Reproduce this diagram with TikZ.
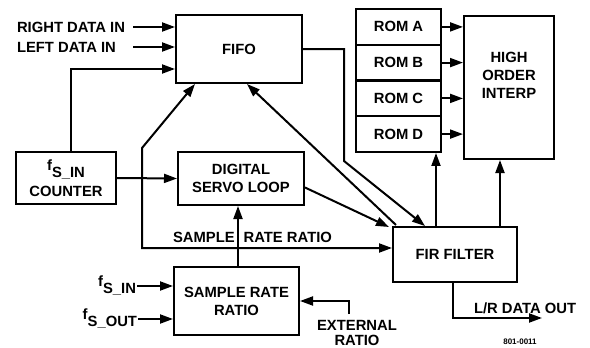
\documentclass[tikz,border=0pt]{standalone}
\usepackage{fontspec}
\setmainfont{Liberation Sans}
\usetikzlibrary{arrows.meta}

\newcommand{\fsig}[1]{f\raisebox{-7pt}{#1}}

\tikzset{%
	block/.style={
		draw,
		line width=2pt,
		align=center,
		inner sep=0pt
	},
	label text/.style={
		inner sep=0pt,
		align=center
	},
}

\begin{document}
\begin{tikzpicture}[x=1pt, y=-1pt, >={Triangle[length=13pt,width=9pt]}, line width=2pt,
  font=\fontsize{14.8}{18}\selectfont\bfseries]
\useasboundingbox (0,0) rectangle (590,348);

% blocks
\node [block, minimum width=126pt, minimum height=68pt] (fifo) at (239,49) {FIFO};
\node [block, minimum width=100pt, minimum height=52pt] (cnt) at (66,178) {\fsig{S\_IN}\\[6pt]COUNTER};
\node [block, minimum width=126pt, minimum height=53pt] (servo) at (241,178.5) {DIGITAL\\SERVO LOOP};
\node [block, minimum width=125pt, minimum height=68pt] (srr) at (236.5,301) {SAMPLE RATE\\RATIO};
\node [block, minimum width=124pt, minimum height=55pt] (fir) at (455,254.5) {FIR FILTER};

\foreach \r/\y in {A/26.9, B/62.6, C/98.4, D/134.1}
	\node [block, minimum width=85pt, minimum height=35.75pt] (rom\r) at (398.5,\y) {ROM \r};

\node [block, minimum width=90pt, minimum height=143pt] (hoi) at (509,87.5) {};
\node [label text] (hoitxt) at (509,75.5) {HIGH\\ORDER\\INTERP};

% labels
\node [label text, anchor=west] (rdi) at (16,27) {RIGHT DATA IN};
\node [label text, anchor=west] (ldi) at (16,47) {LEFT DATA IN};
\node [label text, anchor=west] (srrlbl) at (172,237) {SAMPLE\hspace{9pt}RATE RATIO};
\node [label text, anchor=east] (fsin) at (137,286) {\fsig{S\_IN}};
\node [label text, anchor=east] (fsout) at (138,319) {\fsig{S\_OUT}};
\node [label text, font=\fontsize{14.8}{15}\selectfont\bfseries] (ext) at (357,333) {EXTERNAL\\RATIO};
\node [label text, anchor=west] (lrout) at (473,308) {L/R DATA OUT};
\node [label text, font=\fontsize{8}{9}\selectfont\bfseries] (fignum) at (520,342) {801-0011};

\coordinate (din) at (133,0);
\coordinate (jup) at (142,148);
\coordinate (jlow) at (142,248);
\coordinate (extin) at (349,314);
\coordinate (dout) at (542,318);

% arrows
\draw [->] (din |- rdi.east) -- (fifo.west |- rdi.east);
\draw [->] (din |- ldi.east) -- (fifo.west |- ldi.east);
\draw [->] ([xshift=5pt]cnt.north) |- ([yshift=-20pt]fifo.west);
\draw [->] (cnt.east) -- (servo.west);

\draw [<->] ([xshift=-44pt]fifo.south) -- (jup) -- (jlow) -- (jlow -| fir.west);
\draw [->] ([xshift=1.5pt]srr.north) -- ([xshift=1.5pt]srr.north |- servo.south);

\draw [->] ([yshift=-9pt]servo.east) -- ([xshift=-3pt,yshift=-1pt]fir.north west);
\draw [->] ([xshift=4pt,yshift=1pt]fir.north west) -- ([xshift=8pt]fifo.south);
\draw [->] (fifo.east) -- ++(41,0) -- ++(0,112) -- ([xshift=-30pt]fir.north);

\foreach \r in {A,B,C,D}
	\draw [->] (rom\r.east) -- (rom\r.east -| hoi.west);

\draw [->] ([xshift=-19pt]fir.north) -- ([xshift=-19pt]fir.north |- romD.south);
\draw [->] ([xshift=45pt]fir.north) -- ([xshift=45pt]fir.north |- hoi.south);

\draw [->] (fsin.east) -- (fsin.east -| srr.west);
\draw [->] (fsout.east) -- (fsout.east -| srr.west);
\draw [->] (extin) |- (srr.east);
\draw [->] ([xshift=-2pt]fir.south) |- (dout);

\end{tikzpicture}
\end{document}
